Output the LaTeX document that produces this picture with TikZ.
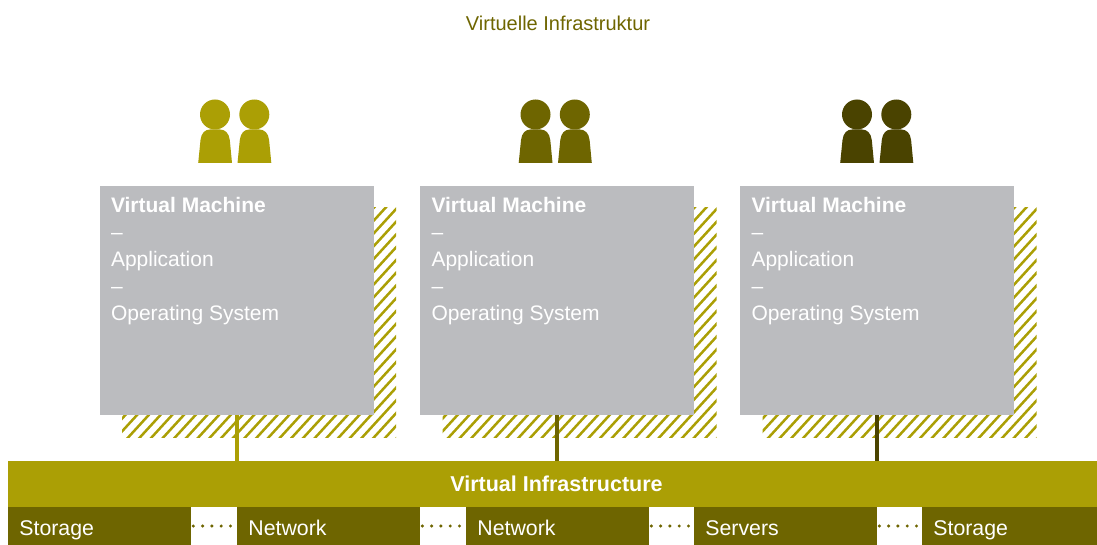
\documentclass[tikz,border=0pt]{standalone}
\usepackage{fontspec}
\setmainfont{Liberation Sans}
\definecolor{olivea}{HTML}{AB9F05}
\definecolor{oliveb}{HTML}{6E6500}
\definecolor{olivec}{HTML}{4A4300}
\definecolor{vmgrey}{HTML}{BBBCBF}
\newcommand{\people}[3]{%
  \begin{scope}[xshift=#1pt]
    \fill[#2] (215,114.5) circle[radius=15] (254.3,114.5) circle[radius=15];
    \foreach \bx in {0,39.3}{
      \fill[#2,xshift=\bx pt] (198.2,163) -- (200.5,140) .. controls (201.3,133) and (205,129.5) .. (210,129.5)
        -- (220,129.5) .. controls (225,129.5) and (229,133) .. (229.8,140) -- (232,163) -- cycle;
    }
  \end{scope}}
\newcommand{\hatchbox}[1]{%
  \begin{scope}[xshift=#1pt]
    \clip (122,207.5) rectangle (396,437);
    \foreach \hx in {0,11.7,...,520}{
      \draw[line width=2.5pt,olivea] (\hx-110,442) -- (\hx+110,202);
    }
  \end{scope}}
\tikzset{
  x=1pt,y=-1pt,
  vmbox/.style={fill=vmgrey,draw=none,inner sep=0,outer sep=0,minimum width=274pt,minimum height=229pt,anchor=north west},
  vmtext/.style={text=white,font=\fontsize{21}{27}\selectfont,align=left,anchor=north west,inner sep=0,outer sep=0},
  infra/.style={fill=olivea,inner sep=0,outer sep=0,minimum width=1089pt,minimum height=46pt,anchor=north west,text=white,font=\fontsize{21.5}{24}\selectfont\bfseries},
  res/.style={fill=oliveb,inner sep=0,outer sep=0,minimum height=38pt,anchor=north west},
  link/.style={line width=3.4pt},
  dotline/.style={oliveb,line width=3.4pt,line cap=round,dash pattern=on 0pt off 9.3pt,dash phase=7pt,yshift=-2pt},
  title/.style={text=oliveb,font=\fontsize{20}{24}\selectfont,inner sep=0}
}
\begin{document}
\begin{tikzpicture}
\useasboundingbox (0,0) rectangle (1097,545);
\node[title] (head) at (558,23) {Virtuelle Infrastruktur};
\people{0}{olivea}{}
\people{320.5}{oliveb}{}
\people{642}{olivec}{}
\hatchbox{0}
\hatchbox{320.5}
\hatchbox{640.5}
\node[vmbox] (vma) at (100,186) {};
\node[vmbox] (vmb) at (420,186) {};
\node[vmbox] (vmc) at (740,186) {};
\node[vmtext] (ta) at (111,197.5) {\textbf{Virtual Machine}\\–\\Application\\–\\Operating System};
\node[vmtext] (tb) at (431.5,197.5) {\textbf{Virtual Machine}\\–\\Application\\–\\Operating System};
\node[vmtext] (tc) at (751.5,197.5) {\textbf{Virtual Machine}\\–\\Application\\–\\Operating System};
\node[infra] (bar) at (8,461) {\raisebox{1pt}{\hspace*{8pt}Virtual Infrastructure}};
\draw[link,olivea] (vma.south) -- (vma.south |- bar.north);
\draw[link,oliveb] (vmb.south) -- (vmb.south |- bar.north);
\draw[link,olivec] (vmc.south) -- (vmc.south |- bar.north);
\foreach \nm/\px/\bw/\lb in {ra/8/183/Storage,rb/237/183/Network,rc/466/183/Network,rd/694/183/Servers,re/922/175/Storage}{
  \node[res,minimum width=\bw pt] (\nm) at (\px,507) {};
  \node[anchor=base west,inner sep=0,text=white,font=\fontsize{21.3}{24}\selectfont] (\nm t) at (\px+11.2,535.5) {\lb};
}
\draw[dotline] (ra.east) -- (rb.west);
\draw[dotline] (rb.east) -- (rc.west);
\draw[dotline] (rc.east) -- (rd.west);
\draw[dotline] (rd.east) -- (re.west);
\end{tikzpicture}
\end{document}
